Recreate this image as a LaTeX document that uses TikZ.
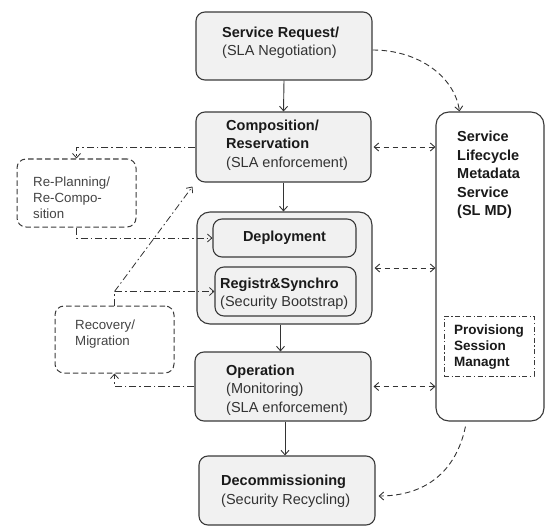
\documentclass[tikz,border=0pt]{standalone}
\usepackage{fontspec}
\setmainfont{Liberation Sans}
\usetikzlibrary{arrows.meta}
\definecolor{boxline}{HTML}{3A3A3A}
\definecolor{boxfill}{HTML}{F1F1F1}
\definecolor{conn}{HTML}{333333}
\definecolor{txt}{HTML}{1A1A1A}
\definecolor{txtb}{HTML}{333333}
\definecolor{txtg}{HTML}{444444}
\begin{document}
\begin{tikzpicture}[x=1pt,y=-1pt,
  box/.style={draw=boxline, fill=boxfill, line width=1.1pt, rounded corners=9pt, inner sep=0pt},
  sidebox/.style={draw=boxline, line width=1pt, dash pattern=on 5.5pt off 3pt, rounded corners=9pt, inner sep=0pt},
  lbl/.style={anchor=west, align=left, inner sep=0pt, font=\fontsize{14.5}{18.5}\selectfont, text=txt},
  slbl/.style={anchor=west, align=left, inner sep=0pt, font=\fontsize{13.3}{15.8}\selectfont, text=txtg},
  tip/.tip={Straight Barb[length=4.5pt,width=8pt]},
  solidarrow/.style={draw=conn, line width=0.9pt, -tip},
  dasharrow/.style={draw=conn, line width=0.9pt, dash pattern=on 5.5pt off 3.5pt, -tip},
  dasharrows/.style={draw=conn, line width=0.9pt, dash pattern=on 5.5pt off 3.5pt, tip-tip},
  ddarrow/.style={draw=conn, line width=0.8pt, dash pattern=on 7pt off 3pt on 1.5pt off 3pt, -tip}
]
\useasboundingbox (0,0) rectangle (547,527);

% main boxes
\node[box, minimum width=176pt, minimum height=68pt] (SR) at (284,46) {};
\node[lbl] (SRt) at (222,43) {\textbf{Service Request/}\\\textcolor{txtb}{(SLA Negotiation)}};

\node[box, minimum width=175pt, minimum height=70pt] (Comp) at (283.5,147) {};
\node[lbl] (Compt) at (226,145) {\textbf{Composition/}\\\textbf{Reservation}\\\textcolor{txtb}{(SLA enforcement)}};

\node[box, rounded corners=13pt, minimum width=175pt, minimum height=112pt] (Grp) at (284.5,268) {};
\node[box, minimum width=143pt, minimum height=38pt] (Dep) at (284.5,238) {};
\node[lbl, anchor=center] (Dept) at (284.5,238) {\textbf{Deployment}};
\node[box, minimum width=141pt, minimum height=49pt] (Reg) at (285.5,291.5) {};
\node[lbl] (Regt) at (220,294) {\textbf{Registr\&Synchro}\\\textcolor{txtb}{(Security Bootstrap)}};

\node[box, minimum width=176pt, minimum height=69pt] (Op) at (283,386.5) {};
\node[lbl] (Opt) at (226,390) {\textbf{Operation}\\\textcolor{txtb}{(Monitoring)}\\\textcolor{txtb}{(SLA enforcement)}};

\node[box, minimum width=176pt, minimum height=69pt] (Dec) at (287,490.5) {};
\node[lbl] (Dect) at (221,491) {\textbf{Decommissioning}\\\textcolor{txtb}{(Security Recycling)}};

% metadata service
\node[draw=boxline, fill=white, line width=1.1pt, rounded corners=13pt, minimum width=108pt, minimum height=309pt, inner sep=0pt] (SL) at (490,266.5) {};
\node[lbl] (SLt) at (457,175) {\textbf{Service}\\\textbf{Lifecycle}\\\textbf{Metadata}\\\textbf{Service}\\\textbf{(SL MD)}};
\node[draw=boxline, line width=0.8pt, dash pattern=on 5pt off 2.5pt on 1.2pt off 2.5pt, minimum width=90pt, minimum height=60pt, inner sep=0pt] (PSM) at (489,346) {};
\node[lbl, font=\fontsize{13.5}{16}\selectfont] (PSMt) at (454,347) {\textbf{Provisiong}\\\textbf{Session}\\\textbf{Managnt}};

% side boxes
\node[sidebox, minimum width=119pt, minimum height=68pt] (RP) at (76.5,193) {};
\node[slbl] (RPt) at (33,198) {Re-Planning/\\Re-Compo-\\sition};
\node[sidebox, minimum width=119pt, minimum height=67pt] (RM) at (114.5,339.5) {};
\node[slbl] (RMt) at (75,334) {Recovery/\\Migration};

% solid flow arrows
\draw[solidarrow] (SR.south) -- (Comp.north);
\draw[solidarrow] (Comp.south) -- (Grp.north -| Comp.south);
\draw[solidarrow] ([xshift=-4pt]Grp.south) -- ([xshift=-4pt]Grp.south |- Op.north);
\draw[solidarrow] ([xshift=2pt]Op.south) -- ([xshift=2pt]Op.south |- Dec.north);

% dashed connections with metadata service
\draw[dasharrow] ([yshift=-4pt]SR.east) .. controls (420,50) and (455,78) .. ([xshift=24pt]SL.north west);
\draw[dasharrows] ([xshift=2pt]Comp.east) -- (Comp.east -| SL.west);
\draw[dasharrows] ([xshift=2pt]Grp.east) -- (Grp.east -| SL.west);
\draw[dasharrows] ([xshift=2pt]Op.east) -- (Op.east -| SL.west);
\draw[dasharrow] ([xshift=30pt,yshift=-5pt]SL.south west) .. controls (456,472) and (425,496) .. ([xshift=3pt,yshift=-5.5pt]Dec.east);

% dash-dot side connections
\draw[ddarrow] (Comp.west) -| (RP.north);
\draw[ddarrow] (RP.south) |- (Dep.west);
\draw[ddarrow] (Op.west) -| (RM.south);
\draw[ddarrow] (RM.north) |- (Reg.west);
\coordinate (RMup) at (RM.north |- Reg.west);
\draw[ddarrow] (RMup) -- ([xshift=-3pt,yshift=-4pt]Comp.south west);
\end{tikzpicture}
\end{document}
